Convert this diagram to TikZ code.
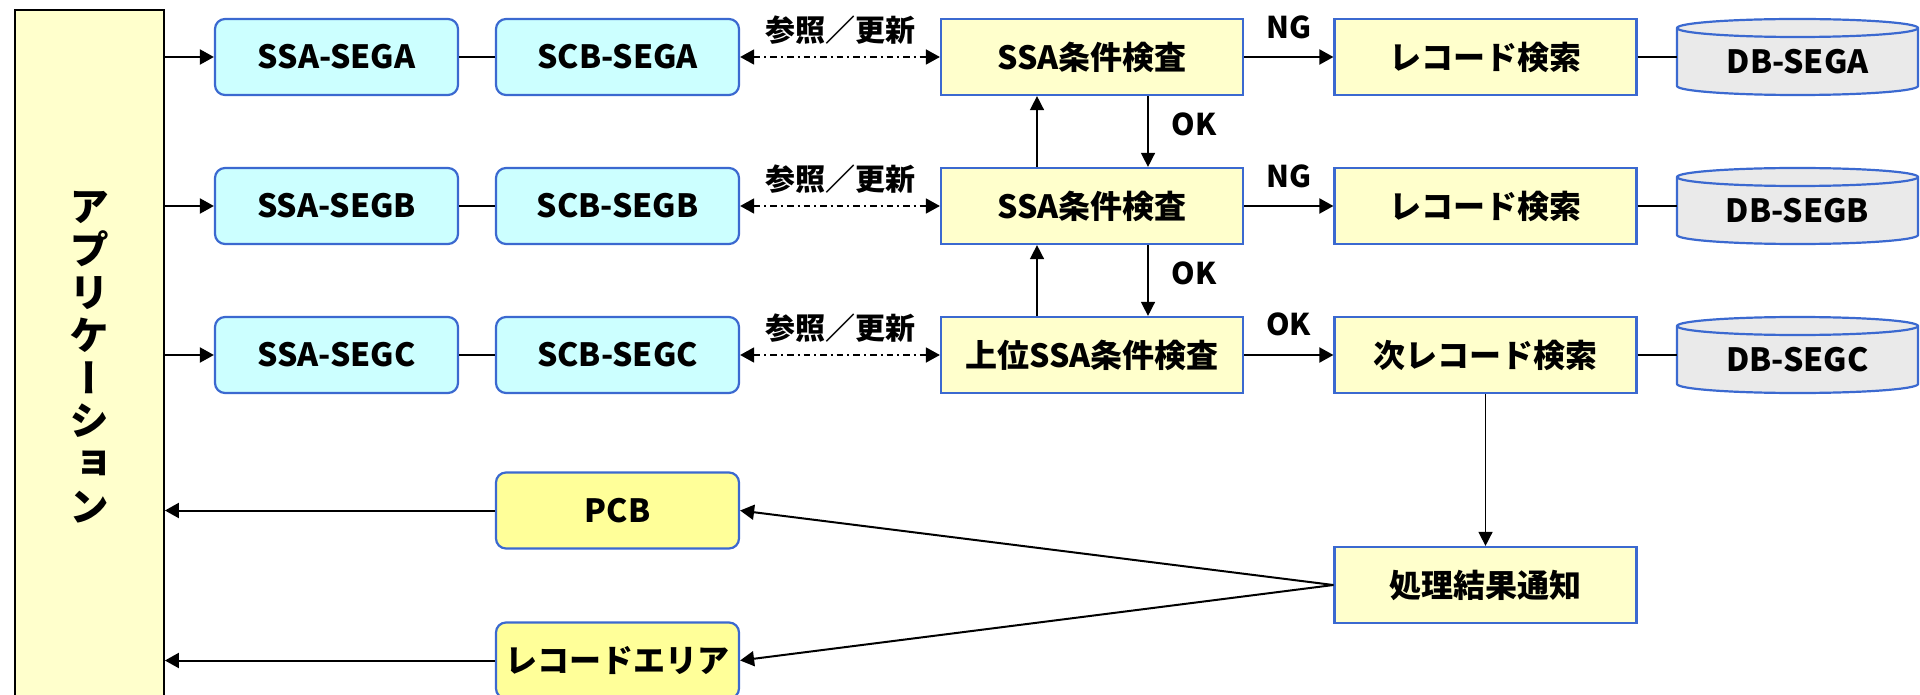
\documentclass[tikz,border=0pt]{standalone}
\usepackage{fontspec}
\setmainfont{Noto Sans CJK JP}
\newfontfamily\vertjp{Noto Sans CJK JP}[RawFeature=+vert]
\usepackage{graphicx}
\usetikzlibrary{arrows.meta,calc}

\definecolor{edge}{RGB}{59,105,208}
\definecolor{cyanfill}{RGB}{204,255,255}
\definecolor{creamfill}{RGB}{255,255,204}
\definecolor{yellowfill}{RGB}{255,255,153}
\definecolor{dbfill}{RGB}{234,234,234}

% cylinder outline drawn around an (invisible) node
\newcommand\drawdb[1]{%
  \draw[dbshape] ([yshift=-4.5pt]#1.north west) -- ([yshift=4.5pt]#1.south west)
    arc[start angle=180,end angle=360,x radius=60.25pt,y radius=4.5pt]
    -- ([yshift=-4.5pt]#1.north east)
    arc[start angle=0,end angle=180,x radius=60.25pt,y radius=4.5pt] -- cycle;
  \draw[dbshape,fill=none] ([yshift=-4.5pt]#1.north west)
    arc[start angle=180,end angle=360,x radius=60.25pt,y radius=4.5pt];}

\begin{document}
\begin{tikzpicture}[x=0.5pt,y=-0.5pt,
  boxtext/.style={font=\bfseries\fontsize{16}{19}\selectfont},
  lbl/.style={font=\bfseries\fontsize{15}{18}\selectfont,inner sep=0pt},
  segbox/.style={boxtext,draw=edge,line width=1.1pt,rounded corners=5pt,fill=cyanfill,
    minimum width=121.5pt,minimum height=38pt,inner sep=0pt},
  procbox/.style={boxtext,draw=edge,line width=1.1pt,fill=creamfill,
    minimum width=151pt,minimum height=38pt,inner sep=0pt},
  blockbox/.style={segbox,fill=yellowfill},
  dbbox/.style={minimum width=120.5pt,minimum height=38pt,inner sep=0pt,outer sep=0pt},
  dbshape/.style={draw=edge,line width=1.1pt,fill=dbfill},
  appbox/.style={draw=black,line width=0.9pt,fill=creamfill,minimum width=74.5pt,
    minimum height=347.5pt,align=center,
    font=\vertjp\bfseries\fontsize{20}{21.4}\selectfont},
  conn/.style={line width=1pt},
  arr/.style={conn,-{Triangle[length=7pt,width=7.5pt]}},
  arrv/.style={line width=0.75pt,-{Triangle[length=7pt,width=7pt]}},
  dd/.style={line width=0.8pt,dash pattern=on 3.3pt off 2pt on 1pt off 2pt,
    {Triangle[length=7pt,width=7.5pt]}-{Triangle[length=7pt,width=7.5pt]}},
]
\useasboundingbox (0,0) rectangle (1920,695);

% application column, set with vertical glyph forms
\node[appbox] (app) at (89.5,357.5)
  {ア\\プ\\リ\\ケ\\ー\\シ\\ョ\\ン};

% segment rows
\node[segbox] (ssaA) at (336.5,57) {SSA-SEGA};
\node[segbox] (scbA) at (617.5,57) {SCB-SEGA};
\node[procbox] (chkA) at (1092,57) {SSA条件検査};
\node[procbox] (srchA) at (1485.5,57) {レコード検索};
\node[dbbox] (dbA) at (1797.5,57) {};

\node[segbox] (ssaB) at (336.5,206) {SSA-SEGB};
\node[segbox] (scbB) at (617.5,206) {SCB-SEGB};
\node[procbox] (chkB) at (1092,206) {SSA条件検査};
\node[procbox] (srchB) at (1485.5,206) {レコード検索};
\node[dbbox] (dbB) at (1797.5,206) {};

\node[segbox] (ssaC) at (336.5,355) {SSA-SEGC};
\node[segbox] (scbC) at (617.5,355) {SCB-SEGC};
\node[procbox] (chkC) at (1092,355) {上位SSA条件検査};
\node[procbox] (srchC) at (1485.5,355) {次レコード検索};
\node[dbbox] (dbC) at (1797.5,355) {};

% databases
\drawdb{dbA}\drawdb{dbB}\drawdb{dbC}
\node[boxtext] (dbAtxt) at ([yshift=-2.5pt]dbA.center) {DB-SEGA};
\node[boxtext] (dbBtxt) at ([yshift=-2.5pt]dbB.center) {DB-SEGB};
\node[boxtext] (dbCtxt) at ([yshift=-2.5pt]dbC.center) {DB-SEGC};

% result blocks
\node[blockbox] (pcb) at (617.5,510.5) {PCB};
\node[blockbox] (rec) at (617.5,660.5) {レコードエリア};
\node[procbox] (res) at (1485.5,585) {処理結果通知};

% row connectors
\foreach \r in {A,B,C}{
  \draw[arr] (app.east |- ssa\r) -- (ssa\r);
  \draw[conn] (ssa\r) -- (scb\r);
  \draw[dd] (scb\r) -- node[lbl,yshift=13.5pt]{参照／更新} (chk\r);
  \draw[conn] (srch\r) -- (db\r.west |- srch\r);
}
\draw[arr] (chkA) -- node[lbl,yshift=15pt]{NG} (srchA);
\draw[arr] (chkB) -- node[lbl,yshift=15pt]{NG} (srchB);
\draw[arr] (chkC) -- node[lbl,yshift=15.5pt]{OK} (srchC);

% checks passed up and down between levels
\draw[arrv] ([xshift=-27.5pt]chkB.north) -- ([xshift=-27.5pt]chkA.south);
\draw[arrv] ([xshift=28pt]chkA.south) -- node[lbl,pos=0.4,anchor=west,xshift=11.5pt]{OK} ([xshift=28pt]chkB.north);
\draw[arrv] ([xshift=-27.5pt]chkC.north) -- ([xshift=-27.5pt]chkB.south);
\draw[arrv] ([xshift=28pt]chkB.south) -- node[lbl,pos=0.4,anchor=west,xshift=11.5pt]{OK} ([xshift=28pt]chkC.north);

% result notification
\draw[arrv] (srchC) -- (res);
\draw[arr] (res.west) -- (pcb.east);
\draw[arr] (res.west) -- (rec.east);
\draw[arr] (pcb) -- (app.east |- pcb);
\draw[arr] (rec) -- (app.east |- rec);
\end{tikzpicture}
\end{document}
